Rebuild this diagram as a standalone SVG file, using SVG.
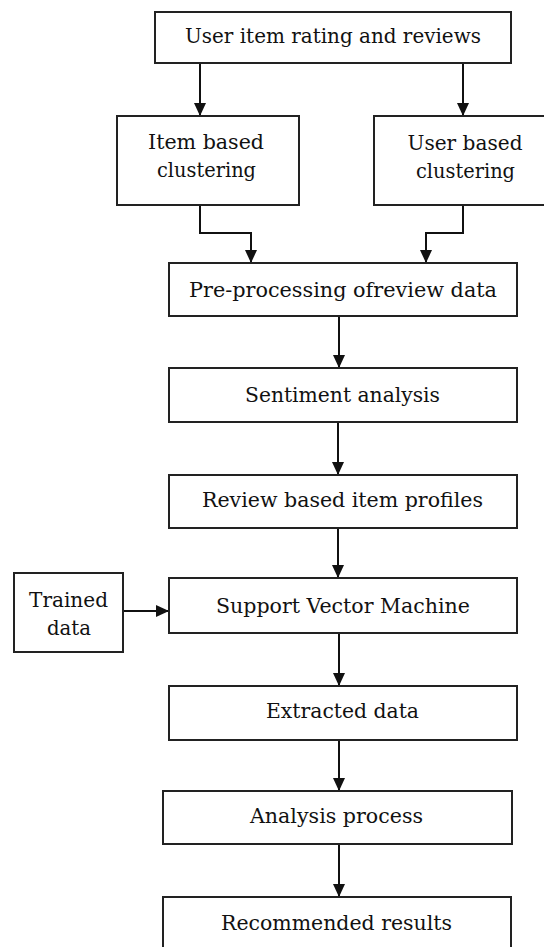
<svg xmlns="http://www.w3.org/2000/svg" width="544" height="947" viewBox="0 0 544 947">
<style>
.box{fill:#fff;stroke:#222;stroke-width:2}
.t{font-family:"DejaVu Serif","Liberation Serif",serif;font-size:21px;fill:#111;text-anchor:middle}
.c{fill:none;stroke:#111;stroke-width:2}
</style>
<defs>
<marker id="ah" markerUnits="userSpaceOnUse" markerWidth="13" markerHeight="13" refX="13" refY="6.5" orient="auto">
<path d="M0,0.5 L13,6.5 L0,12.5 z" fill="#111"/>
</marker>
</defs>
<rect width="544" height="947" fill="#fff"/>
<g id="connectors">
<path class="c" d="M200,63 V116" marker-end="url(#ah)"/>
<path class="c" d="M463,63 V116" marker-end="url(#ah)"/>
<path class="c" d="M200,205 V233 H251 V263" marker-end="url(#ah)"/>
<path class="c" d="M463,205 V233 H426 V263" marker-end="url(#ah)"/>
<path class="c" d="M339,316 V368" marker-end="url(#ah)"/>
<path class="c" d="M338,422 V475" marker-end="url(#ah)"/>
<path class="c" d="M338,528 V578" marker-end="url(#ah)"/>
<path class="c" d="M123,611 H169" marker-end="url(#ah)"/>
<path class="c" d="M339,633 V686" marker-end="url(#ah)"/>
<path class="c" d="M339,740 V791" marker-end="url(#ah)"/>
<path class="c" d="M339,844 V897" marker-end="url(#ah)"/>
</g>
<g id="n1"><rect class="box" x="155" y="12" width="356" height="51"/><text class="t" x="333" y="43" textLength="296" lengthAdjust="spacingAndGlyphs">User item rating and reviews</text></g>
<g id="n2"><rect class="box" x="117" y="116" width="182" height="89"/><text class="t" x="206" y="149" textLength="116" lengthAdjust="spacingAndGlyphs">Item based</text><text class="t" x="206.5" y="177" textLength="99" lengthAdjust="spacingAndGlyphs">clustering</text></g>
<g id="n3"><rect class="box" x="374" y="116" width="182" height="89"/><text class="t" x="465" y="150" textLength="115" lengthAdjust="spacingAndGlyphs">User based</text><text class="t" x="465.5" y="178" textLength="99" lengthAdjust="spacingAndGlyphs">clustering</text></g>
<g id="n4"><rect class="box" x="169" y="263" width="348" height="53"/><text class="t" x="343" y="297" textLength="308" lengthAdjust="spacingAndGlyphs">Pre-processing ofreview data</text></g>
<g id="n5"><rect class="box" x="169" y="368" width="348" height="54"/><text class="t" x="342.5" y="402" textLength="195" lengthAdjust="spacingAndGlyphs">Sentiment analysis</text></g>
<g id="n6"><rect class="box" x="169" y="475" width="348" height="53"/><text class="t" x="342.5" y="507" textLength="281" lengthAdjust="spacingAndGlyphs">Review based item profiles</text></g>
<g id="n7"><rect class="box" x="169" y="578" width="348" height="55"/><text class="t" x="343" y="613" textLength="254" lengthAdjust="spacingAndGlyphs">Support Vector Machine</text></g>
<g id="n8"><rect class="box" x="14" y="573" width="109" height="79"/><text class="t" x="68.5" y="607" textLength="79" lengthAdjust="spacingAndGlyphs">Trained</text><text class="t" x="69" y="635" textLength="44" lengthAdjust="spacingAndGlyphs">data</text></g>
<g id="n9"><rect class="box" x="169" y="686" width="348" height="54"/><text class="t" x="342.5" y="718" textLength="153" lengthAdjust="spacingAndGlyphs">Extracted data</text></g>
<g id="n10"><rect class="box" x="163" y="791" width="349" height="53"/><text class="t" x="336.5" y="823" textLength="173" lengthAdjust="spacingAndGlyphs">Analysis process</text></g>
<g id="n11"><rect class="box" x="163" y="897" width="348" height="56"/><text class="t" x="336.5" y="930" textLength="231" lengthAdjust="spacingAndGlyphs">Recommended results</text></g>
</svg>
